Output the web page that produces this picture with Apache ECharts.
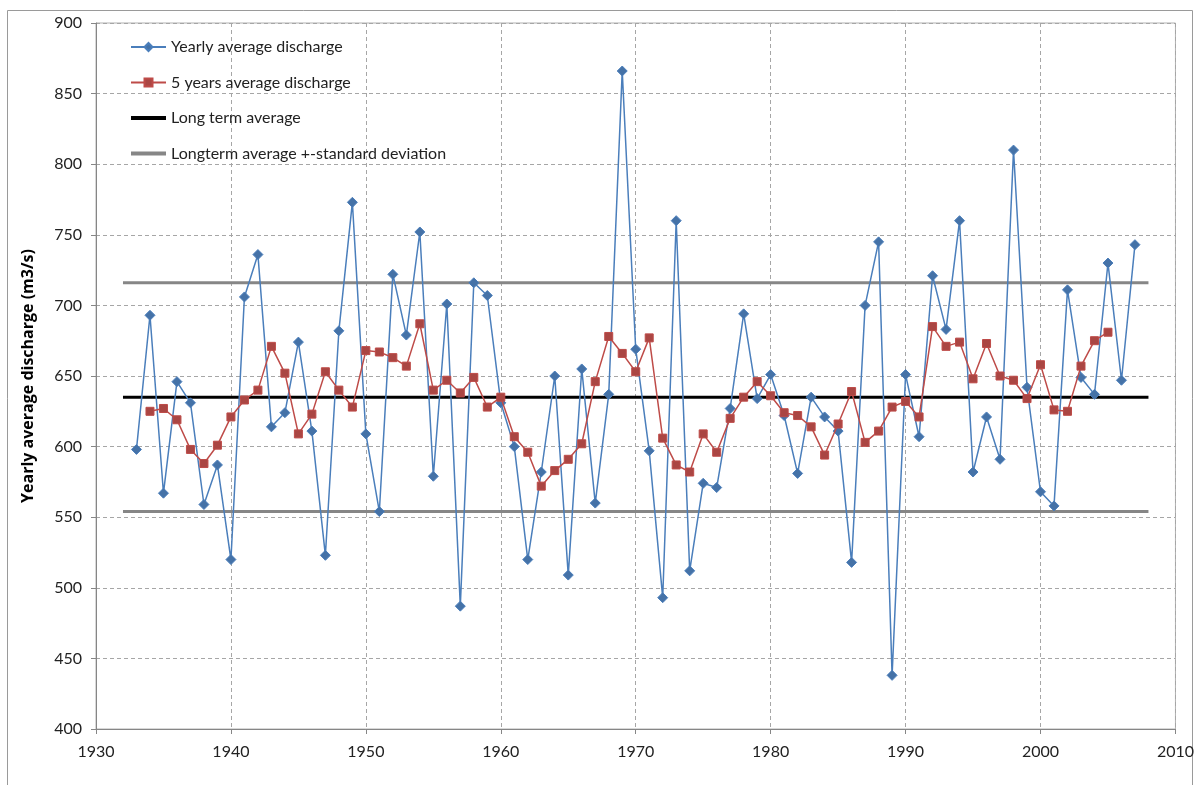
<!DOCTYPE html>
<html>
<head>
<meta charset="utf-8">
<script src="https://cdn.jsdelivr.net/npm/echarts@6/dist/echarts.min.js"></script>
<style>
html, body { margin: 0; padding: 0; background: #fff; }
#myChart { width: 1197px; height: 785px; }
</style>
</head>
<body>
<div id="myChart"></div>
<script>
// yearly average discharge, 1933 - 2007
var years = [1933, 1934, 1935, 1936, 1937, 1938, 1939, 1940, 1941, 1942,
	1943, 1944, 1945, 1946, 1947, 1948, 1949, 1950, 1951, 1952,
	1953, 1954, 1955, 1956, 1957, 1958, 1959, 1960, 1961, 1962,
	1963, 1964, 1965, 1966, 1967, 1968, 1969, 1970, 1971, 1972,
	1973, 1974, 1975, 1976, 1977, 1978, 1979, 1980, 1981, 1982,
	1983, 1984, 1985, 1986, 1987, 1988, 1989, 1990, 1991, 1992,
	1993, 1994, 1995, 1996, 1997, 1998, 1999, 2000, 2001, 2002,
	2003, 2004, 2005, 2006, 2007]
var yearly = [598, 693, 567, 646, 631, 559, 587, 520, 706, 736,
	614, 624, 674, 611, 523, 682, 773, 609, 554, 722,
	679, 752, 579, 701, 487, 716, 707, 631, 600, 520,
	582, 650, 509, 655, 560, 637, 866, 669, 597, 493,
	760, 512, 574, 571, 627, 694, 634, 651, 622, 581,
	635, 621, 611, 518, 700, 745, 438, 651, 607, 721,
	683, 760, 582, 621, 591, 810, 642, 568, 558, 711,
	649, 637, 730, 647, 743]

// 5 years average, 1934 - 2005
var years5 = [1934, 1935, 1936, 1937, 1938, 1939, 1940, 1941, 1942, 1943,
	1944, 1945, 1946, 1947, 1948, 1949, 1950, 1951, 1952, 1953,
	1954, 1955, 1956, 1957, 1958, 1959, 1960, 1961, 1962, 1963,
	1964, 1965, 1966, 1967, 1968, 1969, 1970, 1971, 1972, 1973,
	1974, 1975, 1976, 1977, 1978, 1979, 1980, 1981, 1982, 1983,
	1984, 1985, 1986, 1987, 1988, 1989, 1990, 1991, 1992, 1993,
	1994, 1995, 1996, 1997, 1998, 1999, 2000, 2001, 2002, 2003,
	2004, 2005]
var avg5 = [625, 627, 619, 598, 588, 601, 621, 633, 640, 671,
	652, 609, 623, 653, 640, 628, 668, 667, 663, 657,
	687, 640, 647, 638, 649, 628, 635, 607, 596, 572,
	583, 591, 602, 646, 678, 666, 653, 677, 606, 587,
	582, 609, 596, 620, 635, 646, 636, 624, 622, 614,
	594, 616, 639, 603, 611, 628, 632, 621, 685, 671,
	674, 648, 673, 650, 647, 634, 658, 626, 625, 657,
	675, 681]

var longTermAvg = 635
var stdDev = 81
var refYears = [1932, 2008]

var xTicks = [1930, 2010, 10]   // min, max, interval
var yTicks = [400, 900, 50]

function pairs (xs, ys) {
	return xs.map(function (x, i) { return [x, ys[i]] })
}
function flat (value) {
	return refYears.map(function (x) { return [x, value] })
}

var font = 'Lato, "Open Sans", sans-serif'
var gridLine = { show: true, lineStyle: { color: '#a6a6a6', type: [4, 3], width: 1 } }
var barIcon = 'path://M0,0H35V4H0Z'

var myChart = echarts.init(document.getElementById('myChart'))
var option = {
	animation: false,
	textStyle: { fontFamily: font },
	graphic: [{
		type: 'rect',
		shape: { x: 7.5, y: 10.5, width: 1185, height: 800 },
		style: { fill: 'none', stroke: '#9a9a9a', lineWidth: 1 },
		silent: true
	}],
	grid: {
		left: 96, top: 23, right: 17, bottom: 56,
		show: true, borderColor: '#b0b0b0', borderWidth: 1
	},
	legend: {
		orient: 'vertical',
		left: 125,
		top: 32,
		itemWidth: 35,
		itemHeight: 10,
		itemGap: 15.5,
		textStyle: { fontSize: 16, color: '#222', fontFamily: font, lineHeight: 20 },
		data: [
			'Yearly average discharge',
			'5 years average discharge',
			{ name: 'Long term average', icon: barIcon },
			{ name: 'Longterm average +-standard deviation', icon: barIcon }
		]
	},
	xAxis: {
		type: 'value',
		min: xTicks[0], max: xTicks[1], interval: xTicks[2],
		axisLine: { lineStyle: { color: '#868686' } },
		axisTick: { show: true, length: 5, lineStyle: { color: '#868686' } },
		axisLabel: { fontSize: 16, color: '#222', margin: 15, formatter: function (v) { return String(v) } },
		splitLine: gridLine
	},
	yAxis: {
		type: 'value',
		min: yTicks[0], max: yTicks[1], interval: yTicks[2],
		name: 'Yearly average discharge (m3/s)',
		nameLocation: 'middle',
		nameGap: 60,
		nameTextStyle: { fontSize: 16, fontWeight: 'bold', color: '#000', fontFamily: '"Open Sans", Lato, sans-serif' },
		axisLine: { show: true, lineStyle: { color: '#868686' } },
		axisTick: { show: true, length: 5, lineStyle: { color: '#868686' } },
		axisLabel: { fontSize: 16, color: '#222', margin: 14 },
		splitLine: gridLine
	},
	series: [
		{
			name: 'Longterm average +-standard deviation',
			type: 'line',
			symbol: 'none',
			data: flat(longTermAvg + stdDev),
			lineStyle: { color: '#868686', width: 3 },
			itemStyle: { color: '#868686' },
			z: 1
		},
		{
			name: 'Longterm average +-standard deviation',
			type: 'line',
			symbol: 'none',
			data: flat(longTermAvg - stdDev),
			lineStyle: { color: '#868686', width: 3 },
			itemStyle: { color: '#868686' },
			z: 1
		},
		{
			name: 'Long term average',
			type: 'line',
			symbol: 'none',
			data: flat(longTermAvg),
			lineStyle: { color: '#000', width: 3 },
			itemStyle: { color: '#000' },
			z: 2
		},
		{
			name: 'Yearly average discharge',
			type: 'line',
			symbol: 'diamond',
			symbolSize: 10,
			data: pairs(years, yearly),
			lineStyle: { color: '#4a7ebb', width: 1.5 },
			itemStyle: { color: '#4572a7', borderColor: '#4a7ebb', borderWidth: 1 },
			z: 3
		},
		{
			name: '5 years average discharge',
			type: 'line',
			symbol: 'rect',
			symbolSize: 8,
			data: pairs(years5, avg5),
			lineStyle: { color: '#be4b48', width: 1.5 },
			itemStyle: { color: '#aa4643', borderColor: '#be4b48', borderWidth: 1 },
			z: 4
		}
	]
}
myChart.setOption(option)
</script>
</body>
</html>
